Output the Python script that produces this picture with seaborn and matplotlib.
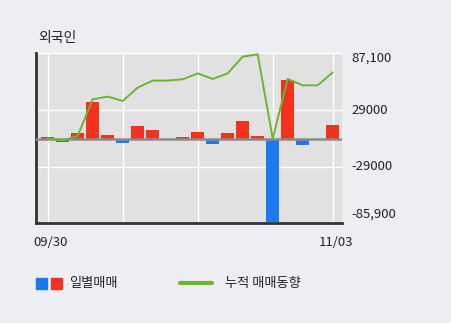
import numpy as np
import pandas as pd
import matplotlib
matplotlib.use("Agg")
import matplotlib.pyplot as plt
from matplotlib.patches import Rectangle
from matplotlib.lines import Line2D
import seaborn as sns

# ---- data ----
days = list(range(20))
daily = [2000, -3400, 6100, 37600, 4100, -4400, 12900, 9200, 0, 2000,
         6800, -5100, 6100, 18300, 2700, -84500, 59700, -6100, 0, 14200]
cumulative = [300, -2000, 2700, 40000, 42700, 38300, 51900, 59000, 59000, 60300,
              66400, 60700, 66400, 83400, 85800, 0, 60700, 54200, 54200, 67400]
x_labels = {0: "09/30", 19: "11/03"}
y_ticks = [87100, 29000, -29000, -85900]
y_tick_labels = ["87,100", "29000", "-29000", "-85,900"]
title = "외국인"
legend_daily = "일별매매"
legend_cum = "누적 매매동향"

RED = "#F0321E"
BLUE = "#1E78F0"
GREEN = "#6CB52E"
BG = "#ECEEF2"
AX_BG = "#E1E1E1"
TXT = "#222222"
FS = 9.5

sns.set_theme(style="white")
plt.rcParams["font.family"] = ["Noto Sans CJK KR", "DejaVu Sans"]

df = pd.DataFrame({"day": days, "daily": daily,
                   "sign": ["pos" if v >= 0 else "neg" for v in daily],
                   "cum": cumulative})

fig = plt.figure(figsize=(4.51, 3.23), dpi=100, facecolor=BG)
ax = fig.add_axes([36/451, 1 - 223/323, (342-36)/451, (223-53)/323])
ax.set_facecolor(AX_BG)

# grid lines
for gx in [0, 5, 10, 15, 19]:
    ax.axvline(gx, color="white", lw=1.0, zorder=0.5)
for gy in [29000, -29000, 87100]:
    ax.axhline(gy, color="white", lw=1.0, zorder=0.5)

sns.barplot(data=df, x="day", y="daily", hue="sign",
            palette={"pos": RED, "neg": BLUE}, dodge=False,
            width=0.85, legend=False, ax=ax, zorder=2, saturation=1,
            linewidth=0, edgecolor="none")
ax.axhline(0, color="#8C8C8C", lw=1.8, zorder=3)
sns.lineplot(x=np.array(days), y=np.array(cumulative), color=GREEN, lw=1.4,
             ax=ax, zorder=4)

ax.set_xlim(-0.78, 19.62)
ax.set_ylim(-85900, 87100)
ax.set_xlabel("")
ax.set_ylabel("")
ax.set_xticks([])
ax.set_yticks([])

for s in ["top", "right"]:
    ax.spines[s].set_visible(False)
ax.spines["left"].set_color("#333333")
ax.spines["bottom"].set_color("#333333")
ax.spines["left"].set_linewidth(2)
ax.spines["bottom"].set_linewidth(2)

# y tick labels on the right
ypix = {87100: 58, 29000: 110.5, -29000: 166.5, -85900: 214}
for v, lab in zip(y_ticks, y_tick_labels):
    fig.text(351/451, 1 - ypix[v]/323, lab, fontsize=FS, color=TXT,
             va="center", ha="left")

# x labels
for i, lab in x_labels.items():
    xp = 36 + (i + 0.78) * 15 + 3
    fig.text(xp/451, 1 - 243/323, lab, fontsize=FS, color=TXT,
             ha="center", va="center")

# title
fig.text(38/451, 1 - 38/323, title, fontsize=FS + 0.5, color=TXT,
         ha="left", va="center")

# legend
ly = 1 - 283/323
fig.patches.append(Rectangle((36/451, ly - 5.5/323), 11/451, 11/323,
                             transform=fig.transFigure, color=BLUE))
fig.patches.append(Rectangle((51/451, ly - 5.5/323), 11/451, 11/323,
                             transform=fig.transFigure, color=RED))
fig.text(69/451, ly, legend_daily, fontsize=FS, color=TXT,
         ha="left", va="center")
fig.lines.append(Line2D([180/451, 212/451], [ly, ly], transform=fig.transFigure,
                        color=GREEN, lw=3))
fig.text(225/451, ly, legend_cum, fontsize=FS, color=TXT,
         ha="left", va="center")

fig.savefig("out.png", dpi=100, facecolor=BG)
